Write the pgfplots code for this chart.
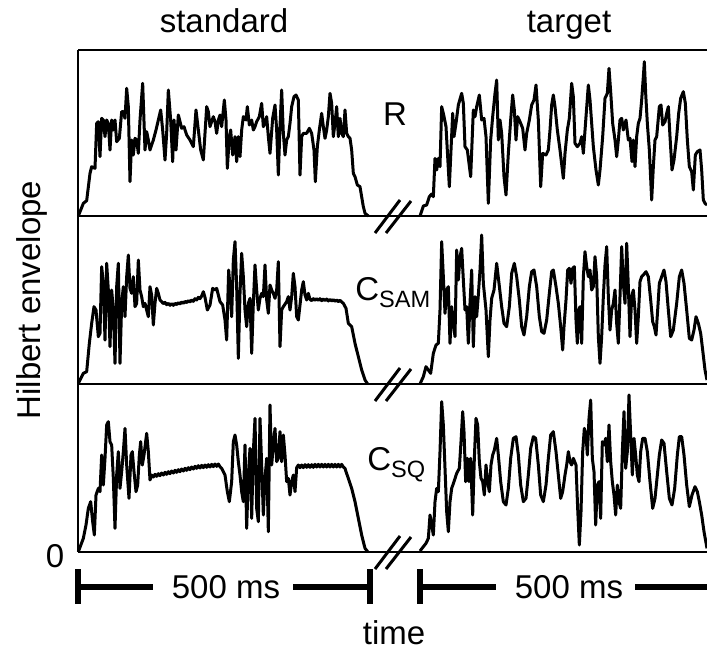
\documentclass[border=0pt]{standalone}
\usepackage{pgfplots}
\pgfplotsset{compat=1.18}
\usepackage{fontspec}
\setmainfont{Liberation Sans}

% subscripts of the panel names
\newcommand\sub[1]{\raisebox{-3.5bp}{\fontsize{11.8bp}{12bp}\selectfont #1}}
\tikzset{
  sig/.style={black, line width=1.5bp, line join=round},
  lab/.style={font=\fontsize{16.5bp}{19bp}\selectfont, inner sep=0pt}}

\begin{document}
\begin{tikzpicture}
\useasboundingbox (0,0) rectangle (353.5bp,325.5bp);
\begin{axis}[at={(0,0)}, anchor=south west,
  width=353.5bp, height=325.5bp, scale only axis,
  xmin=0, xmax=707, ymin=0, ymax=651, y dir=reverse,
  axis lines=none, ticks=none, clip=false]

% panel frame
\draw[line width=1.2bp] (78,50) -- (707,50);
\draw[line width=1.2bp] (78,50) -- (78,552);
\draw[line width=1.2bp] (78,216) -- (707,216);
\draw[line width=1.2bp] (78,384) -- (707,384);
\draw[line width=1.2bp] (78,552) -- (707,552);

% R, standard
\addplot[sig, mark=none] table[row sep=\\, x expr=70+\thisrow{X}/3, y expr=40+\thisrow{Y}/3]{X Y\\
25 528\\ 40 490\\ 50 482\\ 60 400\\ 65 380\\ 75 385\\ 80 250\\ 85 245\\ 90 350\\ 95 235\\ 100 240\\ 105 290\\ 110 240\\ 115 250\\ 120 330\\ 125 240\\ 130 270\\ 135 240\\ 140 305\\ 148 295\\ 155 215\\ 160 215\\ 165 235\\ 170 145\\ 175 200\\ 180 425\\ 185 300\\ 190 345\\ 195 295\\ 200 300\\ 205 340\\ 210 240\\ 218 130\\ 225 330\\ 230 275\\ 235 300\\ 240 330\\ 250 300\\ 258 270\\ 265 240\\ 272 210\\ 278 270\\ 285 360\\ 290 280\\ 295 150\\ 302 240\\ 308 365\\ 312 240\\ 318 330\\ 325 225\\ 330 245\\ 335 265\\ 342 260\\ 350 285\\ 360 300\\ 370 320\\ 378 210\\ 385 270\\ 392 330\\ 400 360\\ 410 200\\ 415 215\\ 420 260\\ 425 245\\ 430 230\\ 435 245\\ 440 280\\ 445 240\\ 450 225\\ 455 260\\ 463 180\\ 468 240\\ 472 385\\ 478 290\\ 482 270\\ 488 345\\ 495 290\\ 500 365\\ 505 290\\ 510 350\\ 515 270\\ 520 230\\ 528 240\\ 532 200\\ 538 255\\ 545 240\\ 550 270\\ 555 260\\ 560 245\\ 568 230\\ 575 190\\ 580 260\\ 585 250\\ 590 230\\ 595 290\\ 600 340\\ 608 235\\ 615 195\\ 620 270\\ 625 405\\ 630 260\\ 635 150\\ 640 280\\ 645 345\\ 650 300\\ 655 290\\ 660 250\\ 665 200\\ 672 170\\ 678 165\\ 685 180\\ 690 405\\ 695 290\\ 700 280\\ 710 280\\ 718 265\\ 725 280\\ 732 330\\ 736 425\\ 742 320\\ 748 270\\ 755 220\\ 760 260\\ 765 295\\ 770 270\\ 775 230\\ 780 160\\ 785 190\\ 790 290\\ 795 250\\ 800 200\\ 805 290\\ 810 235\\ 815 280\\ 820 290\\ 825 210\\ 830 280\\ 835 290\\ 840 295\\ 845 330\\ 850 400\\ 855 410\\ 862 435\\ 870 440\\ 875 470\\ 880 500\\ 885 520\\ 895 528\\
};

% R, target
\addplot[sig, mark=none] table[row sep=\\, x expr=380+\thisrow{X}/3, y expr=40+\thisrow{Y}/3]{X Y\\
120 528\\ 130 498\\ 140 495\\ 148 470\\ 155 462\\ 160 470\\ 165 355\\ 170 390\\ 175 355\\ 180 380\\ 185 200\\ 190 220\\ 198 260\\ 208 440\\ 213 330\\ 218 220\\ 222 290\\ 228 250\\ 235 195\\ 245 160\\ 250 190\\ 255 320\\ 262 330\\ 272 410\\ 280 210\\ 285 230\\ 290 200\\ 298 165\\ 305 240\\ 312 235\\ 318 290\\ 325 490\\ 332 300\\ 338 230\\ 345 160\\ 350 120\\ 355 300\\ 360 240\\ 365 280\\ 372 410\\ 378 465\\ 385 340\\ 392 240\\ 398 165\\ 403 210\\ 408 300\\ 413 230\\ 420 245\\ 428 265\\ 435 330\\ 440 280\\ 448 240\\ 455 195\\ 462 180\\ 468 135\\ 475 240\\ 482 440\\ 488 340\\ 498 345\\ 505 330\\ 510 270\\ 515 195\\ 520 165\\ 525 200\\ 532 270\\ 540 330\\ 550 415\\ 555 340\\ 562 270\\ 568 235\\ 575 130\\ 580 170\\ 585 310\\ 592 320\\ 600 310\\ 605 290\\ 610 340\\ 618 230\\ 625 135\\ 630 180\\ 640 320\\ 648 390\\ 655 435\\ 660 390\\ 668 290\\ 675 175\\ 682 160\\ 687 85\\ 692 155\\ 698 250\\ 705 300\\ 710 350\\ 715 300\\ 720 240\\ 725 235\\ 730 270\\ 738 240\\ 745 300\\ 750 295\\ 756 365\\ 760 300\\ 765 380\\ 770 290\\ 775 250\\ 780 235\\ 785 180\\ 790 110\\ 793 65\\ 797 160\\ 802 250\\ 808 330\\ 815 480\\ 820 380\\ 825 300\\ 830 290\\ 838 200\\ 843 195\\ 848 255\\ 855 245\\ 860 220\\ 865 200\\ 870 290\\ 876 390\\ 882 360\\ 890 290\\ 896 220\\ 902 175\\ 910 155\\ 916 190\\ 922 300\\ 928 380\\ 935 395\\ 940 450\\ 946 345\\ 952 335\\ 960 330\\ 965 390\\ 970 480\\ 975 490\\ 981 495\\
};

% C_SAM, standard
\addplot[sig, mark=none] table[row sep=\\, x expr=70+\thisrow{X}/3, y expr=210+\thisrow{Y}/3]{X Y\\
25 520\\ 40 490\\ 50 485\\ 58 400\\ 65 340\\ 72 290\\ 78 300\\ 85 380\\ 90 370\\ 95 170\\ 100 220\\ 105 390\\ 110 160\\ 115 240\\ 120 410\\ 125 240\\ 130 300\\ 135 460\\ 140 230\\ 145 160\\ 150 460\\ 155 280\\ 160 230\\ 165 320\\ 170 200\\ 175 135\\ 180 235\\ 185 250\\ 190 200\\ 195 290\\ 200 280\\ 205 150\\ 210 240\\ 215 260\\ 220 290\\ 225 280\\ 230 300\\ 235 320\\ 240 230\\ 245 255\\ 250 345\\ 255 280\\ 260 235\\ 265 250\\ 270 270\\ 275 275\\ 280 281\\ 285 277\\ 290 284\\ 295 280\\ 300 286\\ 305 281\\ 310 286\\ 315 280\\ 320 284\\ 325 278\\ 330 282\\ 335 276\\ 340 280\\ 345 274\\ 350 278\\ 355 272\\ 360 276\\ 365 270\\ 370 274\\ 375 266\\ 380 270\\ 385 262\\ 390 266\\ 395 258\\ 400 245\\ 405 262\\ 412 300\\ 420 285\\ 428 235\\ 435 240\\ 440 235\\ 445 255\\ 450 275\\ 458 285\\ 465 330\\ 470 390\\ 476 180\\ 480 230\\ 485 320\\ 490 150\\ 495 95\\ 500 230\\ 505 445\\ 510 250\\ 515 130\\ 520 200\\ 525 300\\ 530 350\\ 535 280\\ 540 265\\ 545 430\\ 550 280\\ 555 165\\ 560 240\\ 565 300\\ 570 265\\ 575 250\\ 580 260\\ 585 165\\ 590 270\\ 595 310\\ 600 225\\ 605 240\\ 610 250\\ 615 265\\ 620 240\\ 625 155\\ 630 410\\ 635 300\\ 640 290\\ 650 275\\ 655 260\\ 660 300\\ 665 260\\ 670 190\\ 675 230\\ 680 320\\ 685 330\\ 690 285\\ 695 240\\ 700 215\\ 705 255\\ 710 270\\ 715 250\\ 720 268\\ 725 272\\ 730 266\\ 735 271\\ 740 266\\ 745 271\\ 750 266\\ 755 272\\ 760 267\\ 765 272\\ 770 267\\ 775 273\\ 780 268\\ 785 273\\ 790 269\\ 795 274\\ 800 270\\ 805 275\\ 810 271\\ 815 276\\ 820 280\\ 828 295\\ 835 340\\ 845 350\\ 855 400\\ 865 440\\ 875 480\\ 885 510\\ 893 522\\
};

% C_SAM, target
\addplot[sig, mark=none] table[row sep=\\, x expr=380+\thisrow{X}/3, y expr=210+\thisrow{Y}/3]{X Y\\
120 522\\ 130 500\\ 138 470\\ 145 480\\ 152 490\\ 160 430\\ 168 405\\ 175 400\\ 180 300\\ 185 95\\ 190 200\\ 195 310\\ 200 240\\ 205 230\\ 210 400\\ 215 290\\ 220 340\\ 225 380\\ 230 120\\ 235 210\\ 240 140\\ 245 115\\ 250 210\\ 255 300\\ 260 290\\ 265 400\\ 270 280\\ 275 180\\ 280 410\\ 285 260\\ 290 320\\ 295 255\\ 300 180\\ 305 75\\ 310 220\\ 318 300\\ 325 440\\ 330 330\\ 335 265\\ 342 240\\ 350 160\\ 357 220\\ 365 290\\ 372 340\\ 380 350\\ 388 290\\ 395 190\\ 403 160\\ 410 200\\ 418 270\\ 425 350\\ 432 375\\ 440 320\\ 448 230\\ 455 185\\ 462 180\\ 470 230\\ 478 320\\ 485 365\\ 492 370\\ 500 330\\ 508 250\\ 515 185\\ 520 180\\ 528 230\\ 535 280\\ 542 350\\ 548 420\\ 552 350\\ 558 270\\ 563 180\\ 568 175\\ 573 220\\ 578 175\\ 583 170\\ 588 330\\ 592 400\\ 596 300\\ 600 290\\ 605 400\\ 610 200\\ 615 125\\ 620 170\\ 625 200\\ 630 180\\ 635 240\\ 640 230\\ 645 140\\ 650 200\\ 655 380\\ 660 460\\ 665 380\\ 670 260\\ 675 165\\ 680 110\\ 685 260\\ 690 360\\ 695 300\\ 700 280\\ 705 240\\ 710 340\\ 715 400\\ 720 260\\ 725 110\\ 730 220\\ 735 280\\ 740 100\\ 745 230\\ 750 380\\ 755 260\\ 760 240\\ 765 300\\ 770 400\\ 775 320\\ 780 215\\ 785 200\\ 790 195\\ 798 185\\ 805 200\\ 812 270\\ 818 335\\ 823 350\\ 828 375\\ 833 300\\ 838 220\\ 845 200\\ 852 180\\ 858 215\\ 865 300\\ 872 380\\ 880 360\\ 890 280\\ 898 200\\ 905 180\\ 912 220\\ 920 300\\ 928 385\\ 935 390\\ 942 360\\ 948 320\\ 955 340\\ 962 370\\ 968 420\\ 975 480\\ 981 510\\
};

% C_SQ, standard
\addplot[sig, mark=none] table[row sep=\\, x expr=70+\thisrow{X}/3, y expr=375+\thisrow{Y}/3]{X Y\\
25 530\\ 40 490\\ 48 450\\ 55 400\\ 62 380\\ 68 440\\ 73 480\\ 78 360\\ 85 340\\ 90 350\\ 95 240\\ 100 330\\ 105 250\\ 110 150\\ 115 140\\ 120 200\\ 125 210\\ 130 310\\ 135 460\\ 140 300\\ 145 230\\ 150 340\\ 155 290\\ 160 230\\ 165 160\\ 170 270\\ 177 370\\ 183 240\\ 187 230\\ 192 290\\ 198 350\\ 203 330\\ 208 240\\ 212 200\\ 217 270\\ 222 240\\ 230 175\\ 235 230\\ 240 315\\ 245 300\\ 250 306\\ 255 298\\ 260 304\\ 265 296\\ 270 302\\ 275 294\\ 280 300\\ 285 292\\ 290 298\\ 295 290\\ 300 296\\ 305 288\\ 310 294\\ 315 286\\ 320 292\\ 325 284\\ 330 290\\ 335 282\\ 340 288\\ 345 280\\ 350 286\\ 355 278\\ 360 284\\ 365 276\\ 370 282\\ 375 274\\ 380 280\\ 385 272\\ 390 279\\ 395 271\\ 400 278\\ 405 270\\ 410 277\\ 415 269\\ 420 276\\ 425 268\\ 430 275\\ 435 267\\ 440 274\\ 445 267\\ 450 275\\ 455 280\\ 465 300\\ 472 350\\ 478 380\\ 485 320\\ 490 200\\ 495 180\\ 500 210\\ 505 260\\ 510 300\\ 515 350\\ 520 380\\ 525 210\\ 530 460\\ 535 300\\ 540 220\\ 545 430\\ 550 230\\ 555 130\\ 560 400\\ 565 440\\ 570 130\\ 575 270\\ 580 420\\ 585 310\\ 590 250\\ 595 470\\ 600 90\\ 605 270\\ 610 210\\ 615 160\\ 620 260\\ 625 250\\ 630 170\\ 635 260\\ 640 180\\ 645 240\\ 650 320\\ 655 310\\ 660 360\\ 665 320\\ 670 300\\ 675 350\\ 680 278\\ 685 270\\ 690 278\\ 695 270\\ 700 278\\ 705 269\\ 710 277\\ 715 269\\ 720 277\\ 725 269\\ 730 277\\ 735 268\\ 740 276\\ 745 268\\ 750 276\\ 755 268\\ 760 276\\ 765 268\\ 770 276\\ 775 268\\ 780 276\\ 785 268\\ 790 276\\ 795 268\\ 800 276\\ 805 268\\ 810 276\\ 815 268\\ 820 276\\ 825 280\\ 828 290\\ 835 310\\ 845 340\\ 855 380\\ 865 430\\ 875 480\\ 885 520\\ 893 530\\
};

% C_SQ, target
\addplot[sig, mark=none] table[row sep=\\, x expr=380+\thisrow{X}/3, y expr=375+\thisrow{Y}/3]{X Y\\
120 528\\ 130 515\\ 138 505\\ 145 490\\ 150 420\\ 155 450\\ 160 480\\ 165 380\\ 170 340\\ 175 350\\ 180 230\\ 185 80\\ 190 150\\ 195 280\\ 200 410\\ 205 470\\ 210 380\\ 215 340\\ 222 320\\ 230 295\\ 238 280\\ 243 200\\ 248 110\\ 252 170\\ 257 320\\ 262 250\\ 267 320\\ 272 250\\ 278 420\\ 283 250\\ 288 130\\ 293 150\\ 298 260\\ 303 310\\ 308 320\\ 313 360\\ 318 270\\ 323 320\\ 328 350\\ 333 270\\ 338 240\\ 343 225\\ 350 190\\ 355 240\\ 362 320\\ 370 380\\ 378 390\\ 385 340\\ 392 250\\ 400 190\\ 408 185\\ 415 240\\ 422 330\\ 430 380\\ 438 370\\ 445 300\\ 452 220\\ 460 185\\ 467 190\\ 475 270\\ 482 360\\ 490 380\\ 498 330\\ 505 250\\ 512 180\\ 520 170\\ 528 230\\ 535 300\\ 542 370\\ 548 350\\ 555 300\\ 560 270\\ 565 230\\ 570 260\\ 575 270\\ 580 250\\ 588 270\\ 593 400\\ 598 510\\ 603 410\\ 608 230\\ 613 160\\ 618 180\\ 622 240\\ 627 130\\ 632 75\\ 637 250\\ 642 290\\ 647 450\\ 652 330\\ 657 320\\ 662 430\\ 667 200\\ 672 210\\ 677 190\\ 682 260\\ 687 150\\ 692 260\\ 697 320\\ 702 360\\ 707 420\\ 712 330\\ 717 380\\ 722 400\\ 727 230\\ 732 110\\ 737 280\\ 742 230\\ 747 60\\ 752 180\\ 757 300\\ 762 190\\ 767 240\\ 772 300\\ 777 320\\ 782 230\\ 788 190\\ 795 190\\ 802 230\\ 810 320\\ 818 400\\ 825 370\\ 832 300\\ 838 240\\ 845 195\\ 852 205\\ 860 290\\ 868 370\\ 876 390\\ 884 340\\ 892 240\\ 898 185\\ 905 185\\ 912 240\\ 920 330\\ 928 395\\ 936 360\\ 945 335\\ 952 350\\ 958 380\\ 965 420\\ 972 470\\ 981 520\\
};

% break marks
\draw[line width=1.5bp] (375,233) -- (400,200);
\draw[line width=1.5bp] (386,233) -- (411,201);
\draw[line width=1.5bp] (375,401) -- (400,368);
\draw[line width=1.5bp] (386,401) -- (411,369);
\draw[line width=1.5bp] (375,569) -- (400,536);
\draw[line width=1.5bp] (386,569) -- (411,537);

% 500 ms scale bars
\draw[line width=3.2bp] (78,587) -- (153,587);
\draw[line width=3.2bp] (293,587) -- (370,587);
\draw[line width=3bp] (78,569) -- (78,604);
\draw[line width=3bp] (370,569) -- (370,604);
\draw[line width=3.2bp] (420,587) -- (496,587);
\draw[line width=3.2bp] (635,587) -- (707,587);
\draw[line width=3bp] (420,569) -- (420,604);

% texts
\node[lab, anchor=base] at (224,33) {standard};
\node[lab, anchor=base] at (569,33) {target};
\node[lab, anchor=base] at (395,125) {R};
\node[lab, anchor=base west] at (355,300) {C\sub{SAM}};
\node[lab, anchor=base west] at (367,470) {C\sub{SQ}};
\node[lab, anchor=base] at (55,567) {0};
\node[lab, anchor=base] at (226,598) {500 ms};
\node[lab, anchor=base] at (569,598) {500 ms};
\node[lab, anchor=base] at (394,644) {time};
\node[lab, anchor=base, rotate=90] at (40,300) {Hilbert envelope};
\end{axis}
\end{tikzpicture}
\end{document}
